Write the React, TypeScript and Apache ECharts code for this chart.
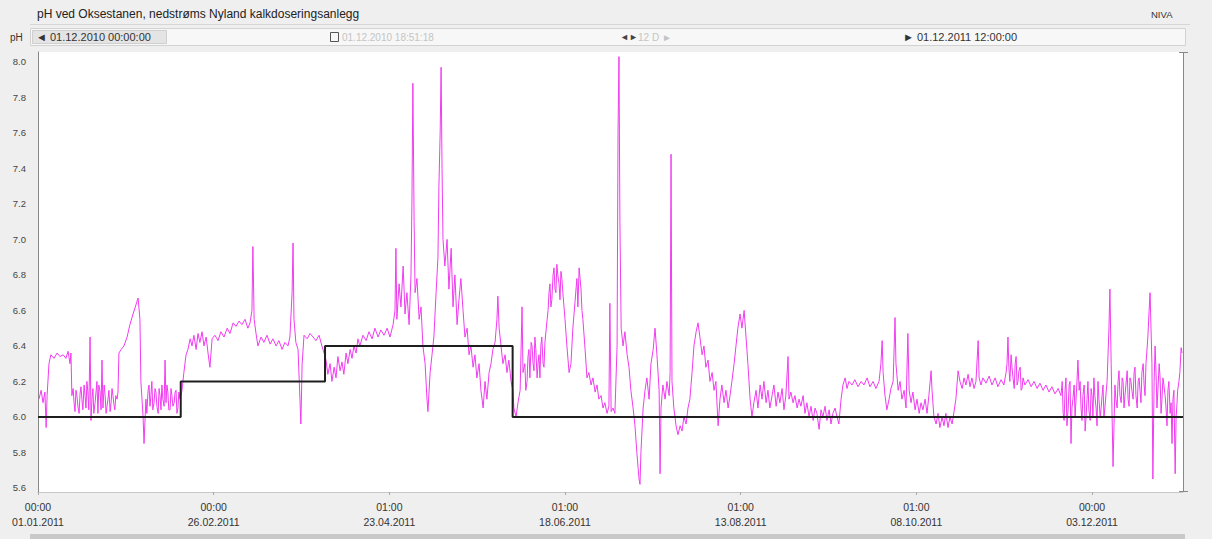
import React, { useEffect, useRef } from "react";
import * as echarts from "echarts";

// pH readings: [day since 01.01.2011 00:00, pH]
const phJanFeb = [[0.3,6.10],[1.0,6.15],[1.6,6.08],[2.2,6.14],[2.6,5.94],[2.9,6.12],[3.5,6.30],[4.1,6.35],[5.1,6.33],[6.1,6.36],[7.0,6.34],[8.0,6.35],[8.9,6.33],[9.6,6.37],[10.2,6.30],[10.5,6.36],[10.8,6.12],[11.5,6.08],[12.1,6.15],[12.8,6.05],[13.4,6.13],[14.0,6.10],[14.7,6.18],[15.3,6.05],[15.9,6.14],[16.6,6.45],[16.9,5.98],[17.5,6.16],[18.2,6.08],[18.8,6.20],[19.1,6.02],[19.8,6.14],[20.4,6.32],[20.7,6.05],[21.4,6.12],[22.0,6.06],[22.6,6.15],[23.3,6.08],[23.9,6.12],[24.5,6.04],[25.2,6.10],[25.5,6.14],[25.8,6.36],[26.5,6.38],[27.4,6.40],[28.4,6.45],[29.3,6.52],[30.3,6.58],[31.2,6.63],[31.9,6.67],[32.5,6.55],[32.8,6.20],[33.5,6.00],[33.8,5.85],[34.4,6.10],[35.1,6.15],[35.7,6.06],[36.3,6.20],[37.0,6.08],[37.6,6.14],[38.3,6.02],[38.9,6.12],[39.5,6.18],[40.2,6.06],[40.5,6.32],[40.8,6.08],[41.4,6.14],[42.1,6.04],[42.7,6.12],[43.4,6.08],[44.0,6.15],[44.6,6.05],[45.3,6.10]];

const phJanFebExtra = [[11.2,6.16],[11.8,6.03],[12.4,6.12],[13.1,6.02],[13.7,6.17],[14.3,6.04],[15.0,6.12],[15.6,6.20],[16.2,6.04],[17.2,6.10],[17.8,6.02],[18.5,6.14],[19.4,6.18],[20.1,6.04],[21.1,6.18],[21.7,6.02],[22.3,6.10],[23.0,6.03],[23.6,6.16],[24.2,6.07],[24.8,6.12],[34.7,6.02],[35.4,6.18],[36.0,6.12],[36.6,6.04],[37.3,6.16],[37.9,6.06],[38.6,6.16],[39.2,6.04],[39.8,6.10],[41.1,6.18],[41.7,6.04],[42.4,6.16],[43.0,6.06],[43.7,6.14],[44.3,6.02],[44.9,6.14]];

const phFebMar = [[45.9,6.15],[46.5,6.25],[47.2,6.35],[47.8,6.38],[48.5,6.44],[49.1,6.40],[49.7,6.46],[50.4,6.38],[51.0,6.47],[51.6,6.42],[52.3,6.48],[52.9,6.40],[53.6,6.45],[54.2,6.36],[54.8,6.28],[55.5,6.44],[56.4,6.46],[57.4,6.43],[58.3,6.48],[59.3,6.45],[60.3,6.50],[61.2,6.47],[62.2,6.53],[63.1,6.51],[64.1,6.54],[65.0,6.52],[66.0,6.55],[66.9,6.50],[67.6,6.53],[68.2,6.60],[68.5,6.96],[68.9,6.55],[69.5,6.47],[70.1,6.40],[71.1,6.45],[72.0,6.42],[73.0,6.46],[74.0,6.41],[74.9,6.44],[75.9,6.40],[76.8,6.43],[77.8,6.38],[78.7,6.42],[79.7,6.40],[80.3,6.45],[81.0,6.70],[81.3,6.98],[81.6,6.55],[82.2,6.42],[82.9,6.38],[83.5,6.10],[83.8,5.96],[84.2,6.30],[84.8,6.46],[85.8,6.44],[86.7,6.47],[87.7,6.45],[88.6,6.43],[89.6,6.46],[90.5,6.40],[91.2,6.36]];

const phAprMay = [[91.8,6.32],[92.4,6.24],[93.1,6.30],[93.7,6.20],[94.4,6.28],[95.0,6.22],[95.6,6.34],[96.3,6.26],[96.9,6.31],[97.5,6.24],[98.2,6.36],[98.8,6.30],[99.5,6.38],[100.1,6.33],[100.7,6.40],[101.4,6.36],[102.0,6.44],[102.6,6.40],[103.6,6.46],[104.6,6.43],[105.5,6.48],[106.5,6.44],[107.4,6.50],[108.4,6.45],[109.3,6.49],[110.3,6.46],[111.3,6.50],[112.2,6.45],[113.2,6.52],[113.8,6.60],[114.1,6.95],[114.4,6.55],[115.1,6.75],[115.7,6.62],[116.4,6.85],[117.0,6.58],[117.6,6.70],[118.3,6.52],[118.9,6.80],[119.2,7.20],[119.5,7.88],[119.9,7.10],[120.2,6.70],[120.8,6.78],[121.5,6.55],[122.1,6.62],[122.7,6.40],[123.4,6.30],[124.0,6.10],[124.3,6.03],[125.0,6.25],[125.6,6.35],[126.2,6.45],[126.9,6.70],[127.5,6.90],[127.8,7.30],[128.2,7.60],[128.5,7.97],[128.8,7.40],[129.1,7.00],[129.7,6.85],[130.4,7.00],[131.0,6.72],[131.7,6.95],[132.3,6.62],[132.9,6.80],[133.6,6.52],[134.2,6.66],[134.8,6.78],[135.5,6.60],[136.1,6.45],[136.8,6.50],[137.4,6.35],[138.0,6.40],[138.7,6.28],[139.3,6.35],[139.9,6.22],[140.6,6.30],[141.2,6.15],[141.9,6.05],[142.5,6.20],[143.1,6.10],[143.8,6.25],[144.4,6.30],[145.0,6.38],[145.7,6.42],[146.3,6.55],[146.6,6.68],[147.0,6.50],[147.6,6.40],[148.2,6.30],[148.9,6.35],[149.5,6.25],[150.1,6.32],[150.8,6.20],[151.4,6.15]];

const phJunAug = [[151.7,6.05],[152.4,6.00],[153.0,6.08],[153.7,6.15],[154.3,6.62],[154.6,6.25],[155.2,6.30],[155.9,6.20],[156.5,6.38],[157.2,6.42],[157.8,6.30],[158.4,6.45],[159.1,6.22],[159.7,6.35],[160.3,6.40],[161.0,6.30],[161.6,6.42],[162.3,6.55],[162.9,6.70],[163.5,6.62],[164.2,6.80],[164.8,6.72],[165.4,6.86],[166.1,6.75],[166.7,6.82],[167.4,6.68],[168.0,6.55],[168.6,6.40],[169.3,6.25],[169.9,6.30],[170.5,6.50],[171.2,6.65],[171.8,6.78],[172.5,6.84],[173.1,6.72],[173.7,6.55],[174.4,6.38],[175.0,6.22],[175.6,6.25],[176.3,6.18],[176.9,6.22],[177.6,6.14],[178.2,6.18],[178.8,6.10],[179.5,6.12],[180.1,6.05],[180.7,6.08],[181.4,6.02],[182.0,6.06],[182.3,6.64],[182.7,6.03],[183.3,6.05],[183.9,6.02],[184.6,6.40],[184.9,7.60],[185.2,8.03],[185.5,7.10],[185.9,6.50],[186.5,6.40],[187.1,6.48],[187.8,6.35],[188.4,6.28],[189.0,6.15],[189.7,6.05],[190.3,5.95],[190.9,5.80],[191.6,5.65],[191.9,5.62],[192.2,5.80],[192.9,6.05],[193.5,6.15],[194.1,6.22],[194.8,6.10],[195.4,6.30],[196.1,6.38],[196.7,6.50],[197.3,6.35],[198.0,6.15],[198.3,5.68],[198.6,6.05],[199.2,6.18],[199.9,6.10],[200.5,6.20],[201.2,6.12],[201.5,6.25],[201.8,7.48],[202.1,6.20],[202.7,6.05],[203.4,5.95],[204.0,5.90],[204.7,5.95],[205.3,5.92],[205.9,6.00],[206.6,5.96],[207.2,6.05],[207.8,6.10],[208.5,6.25],[209.1,6.40],[209.8,6.48],[210.4,6.53],[211.0,6.45],[211.7,6.35],[212.3,6.40],[212.9,6.28],[213.6,6.32],[214.2,6.20],[214.9,6.25],[215.5,6.15],[216.1,6.20],[216.8,5.95],[217.4,6.10],[218.0,6.18],[218.7,6.08],[219.3,6.15],[220.0,6.05],[220.6,6.12],[221.2,6.20],[221.9,6.30],[222.5,6.40],[223.1,6.50],[223.8,6.58],[224.4,6.50],[225.1,6.60],[225.7,6.45],[226.3,6.30]];

const phJunExtra = [[155.5,6.15],[156.2,6.34],[156.8,6.22],[157.5,6.40],[158.1,6.26],[158.7,6.38],[159.4,6.30],[160.0,6.22],[160.6,6.45],[161.3,6.28],[162.6,6.60],[163.2,6.75],[163.8,6.66],[164.5,6.84],[165.1,6.70],[165.7,6.80],[166.4,6.66],[167.0,6.78],[171.5,6.72],[172.1,6.62],[172.8,6.78],[173.4,6.60]];

const phSepDec = [[227.0,6.10],[227.6,6.00],[228.2,6.08],[228.9,6.15],[229.5,6.05],[230.2,6.18],[230.8,6.10],[231.4,6.20],[232.1,6.08],[232.7,6.15],[233.3,6.05],[234.0,6.12],[234.6,6.18],[235.3,6.06],[235.9,6.14],[236.5,6.08],[237.2,6.16],[237.8,6.04],[238.4,6.12],[239.1,6.34],[239.4,6.10],[240.0,6.14],[240.7,6.08],[241.3,6.12],[242.0,6.05],[242.6,6.10],[243.2,6.06],[243.9,6.12],[244.5,6.02],[245.1,6.08],[245.8,6.00],[246.4,6.06],[247.1,5.98],[247.7,6.05],[248.3,6.02],[249.0,5.93],[249.6,6.04],[250.2,6.00],[250.9,6.06],[251.5,5.98],[252.2,6.04],[252.8,5.96],[253.4,6.02],[254.1,6.05],[254.7,6.00],[255.3,5.96],[256.0,6.10],[256.6,6.18],[257.3,6.22],[257.9,6.16],[258.5,6.20],[259.5,6.18],[260.4,6.21],[261.4,6.17],[262.4,6.20],[263.3,6.18],[264.3,6.22],[265.2,6.17],[266.2,6.20],[267.1,6.16],[268.1,6.20],[268.7,6.30],[269.1,6.43],[269.4,6.25],[270.0,6.12],[270.6,6.04],[271.3,6.10],[271.9,6.16],[272.6,6.20],[273.2,6.56],[273.5,6.30],[274.2,6.15],[274.8,6.20],[275.4,6.10],[276.1,6.15],[276.7,6.05],[277.3,6.47],[277.7,6.15],[278.3,6.08],[278.9,6.14],[279.6,6.04],[280.2,6.10],[280.9,6.02],[281.5,6.08],[282.1,6.04],[282.8,6.10],[283.4,6.02],[284.0,6.12],[284.7,6.26],[285.0,6.15],[285.6,6.00],[286.3,5.96],[286.9,6.02],[287.5,5.94],[288.2,6.00],[288.8,5.95],[289.4,6.02],[290.1,5.94],[290.7,6.00],[291.4,5.96],[292.0,6.03],[292.6,6.10],[293.3,6.26],[293.9,6.20],[294.6,6.16],[295.2,6.22],[295.8,6.18],[296.5,6.24],[297.1,6.17],[297.7,6.22],[298.4,6.16],[299.0,6.20],[299.7,6.43],[300.0,6.22],[300.6,6.18],[301.2,6.22],[302.2,6.19],[303.2,6.23],[304.1,6.18],[305.1,6.22],[306.0,6.17],[307.0,6.21],[307.9,6.18],[308.6,6.25],[309.2,6.45],[309.5,6.28],[310.2,6.35],[310.8,6.22],[311.5,6.30],[312.1,6.18],[312.7,6.26],[313.4,6.15],[314.0,6.22],[314.6,6.18],[315.6,6.21],[316.6,6.17],[317.5,6.20],[318.5,6.16],[319.4,6.19],[320.4,6.15],[321.3,6.18],[322.3,6.14],[323.2,6.17],[324.2,6.13],[325.2,6.16],[326.1,6.12],[326.8,6.02],[327.4,6.15],[328.0,5.95],[328.7,6.18],[329.3,5.85],[329.9,6.10],[330.6,6.00],[331.2,6.20],[331.5,6.32],[331.9,6.15],[332.5,6.05],[333.1,6.12],[333.8,5.92],[334.4,6.10],[335.0,6.04],[335.7,6.16],[336.3,6.00],[336.9,6.12],[337.6,5.95],[338.2,6.10],[338.9,6.05],[339.5,6.18],[340.1,6.05],[340.8,6.20],[341.4,6.50],[341.7,6.72],[342.1,6.30],[342.4,6.00],[342.7,5.72],[343.0,5.95],[343.6,6.10],[344.3,6.20],[344.9,6.12],[345.6,6.22],[346.2,6.05],[346.8,6.18],[347.5,6.10],[348.1,6.22],[348.7,6.15],[349.4,6.25],[350.0,6.12],[350.7,6.20],[351.3,6.15],[351.9,6.25],[352.6,6.18],[353.2,6.30],[353.8,6.45],[354.2,6.60],[354.5,6.70],[354.8,6.50],[355.1,6.30],[355.4,5.65],[355.8,6.20],[356.1,6.40],[356.4,6.25],[357.0,6.15],[357.7,6.22],[358.3,6.10],[358.9,6.18],[359.6,6.05],[360.2,6.15],[360.9,6.02],[361.5,5.85],[361.8,6.10],[362.5,5.68],[362.8,6.00],[363.3,6.15],[364.0,6.25],[364.4,6.39],[364.7,6.36]];

const phSepDecExtra = [[308.9,6.30],[309.8,6.20],[310.5,6.28],[311.2,6.16],[311.8,6.34],[312.4,6.20],[313.1,6.28],[313.7,6.16],[326.5,6.20],[327.1,5.98],[327.7,6.22],[328.4,6.05],[329.0,6.20],[329.6,6.05],[330.3,6.18],[332.2,6.20],[332.8,5.98],[333.5,6.18],[334.1,6.00],[334.7,6.20],[335.4,5.98],[336.0,6.12],[336.6,6.22],[337.3,6.05],[337.9,6.20],[338.6,6.00],[339.2,6.12],[339.8,6.00],[340.5,6.14],[343.3,6.18],[344.0,6.05],[344.6,6.26],[345.3,6.08],[345.9,6.20],[346.5,6.12],[347.2,6.26],[347.8,6.06],[348.4,6.20],[349.1,6.10],[349.7,6.28],[350.4,6.05],[351.0,6.22],[351.6,6.08],[352.3,6.30],[352.9,6.12],[356.7,6.05],[357.4,6.30],[358.0,6.02],[358.6,6.22],[359.3,6.12],[359.9,5.95],[360.5,6.20],[361.2,6.08],[362.1,6.15],[363.0,6.05],[363.7,6.20]];

// stepped reference level (black)
const stepDays = [0, 45.5, 45.5, 91.5, 91.5, 151.3, 151.3, 365];
const stepValues = [6.0, 6.0, 6.2, 6.2, 6.4, 6.4, 6.0, 6.0];

const yTicks = [5.6, 5.8, 6.0, 6.2, 6.4, 6.6, 6.8, 7.0, 7.2, 7.4, 7.6, 7.8, 8.0];
const xTickDays = [0, 56, 112, 168, 224, 280, 336];
const xTickLabels = [
  "00:00\n01.01.2011",
  "00:00\n26.02.2011",
  "01:00\n23.04.2011",
  "01:00\n18.06.2011",
  "01:00\n13.08.2011",
  "01:00\n08.10.2011",
  "00:00\n03.12.2011",
];

const titleText = "pH ved Oksestanen, nedstrøms Nyland kalkdoseringsanlegg";
const fromText = "◄ 01.12.2010 00:00:00";
const toText = "► 01.12.2011 12:00:00";

const FONT = "'Liberation Sans', Arial, sans-serif";

export default function App() {
  const ref = useRef<HTMLDivElement>(null);
  useEffect(() => {
    document.body.style.margin = "0";
    const chart = echarts.init(ref.current!, null, { renderer: "svg" });
    const phData = [
      ...phJanFeb, ...phJanFebExtra, ...phFebMar, ...phAprMay,
      ...phJunAug, ...phJunExtra, ...phSepDec, ...phSepDecExtra,
    ].sort((a, b) => a[0] - b[0]);
    const stepData = stepDays.map((d, i) => [d, stepValues[i]]);
    const headerText = (x: number, text: string, fill = "#333", size = 9) => ({
      type: "text",
      x,
      y: 37,
      style: { text, fill, font: `${size}px ${FONT}`, verticalAlign: "middle" },
      z: 10,
    });
    chart.setOption({
      animation: false,
      backgroundColor: "#efefef",
      textStyle: { fontFamily: FONT },
      grid: {
        left: 38,
        right: 29,
        top: 52,
        bottom: 47,
        show: true,
        backgroundColor: "#ffffff",
        borderWidth: 0,
      },
      xAxis: {
        type: "value",
        min: 0,
        max: 365,
        splitLine: { show: false },
        axisLine: { show: true, lineStyle: { color: "#c8c8c8", width: 1 } },
        axisTick: { show: true, customValues: xTickDays, length: 3, lineStyle: { color: "#aaa" } },
        axisLabel: {
          customValues: xTickDays,
          color: "#333",
          fontSize: 10.5,
          lineHeight: 15,
          margin: 7,
          formatter: (v: number) => {
            const i = xTickDays.indexOf(Math.round(v));
            return i >= 0 ? xTickLabels[i] : "";
          },
        },
      },
      yAxis: {
        type: "value",
        min: 5.577,
        max: 8.056,
        splitLine: { show: false },
        axisLine: { show: true, lineStyle: { color: "#888", width: 1 } },
        axisTick: { show: false },
        axisLabel: {
          customValues: yTicks,
          color: "#444",
          fontSize: 9.5,
          margin: 12,
          formatter: (v: number) => v.toFixed(1),
        },
      },
      series: [
        {
          type: "line",
          name: "pH",
          data: phData,
          showSymbol: false,
          lineStyle: { color: "#f03cf0", width: 1 },
          z: 2,
        },
        {
          type: "line",
          name: "level",
          data: stepData,
          showSymbol: false,
          lineStyle: { color: "#1e1e1e", width: 2 },
          z: 3,
        },
      ],
      graphic: [
        { type: "line", shape: { x1: 30, y1: 24.5, x2: 1190, y2: 24.5 }, style: { stroke: "#d6d6d6", lineWidth: 1 } },
        {
          type: "text",
          x: 37,
          y: 14,
          style: { text: titleText, fill: "#222", font: `12px ${FONT}`, verticalAlign: "middle" },
        },
        {
          type: "text",
          x: 1151,
          y: 14,
          style: { text: "NIVA", fill: "#333", font: `9.5px ${FONT}`, verticalAlign: "middle" },
        },
        headerText(10, "pH", "#333", 10),
        {
          type: "rect",
          shape: { x: 30.5, y: 28.5, width: 1155, height: 17 },
          style: { fill: "#f7f7f7", stroke: "#d2d2d2", lineWidth: 1 },
        },
        {
          type: "rect",
          shape: { x: 32.5, y: 30.5, width: 134, height: 13 },
          style: { fill: "#e4e4e4", stroke: "#cfcfcf", lineWidth: 1 },
          z: 5,
        },
        headerText(36, fromText, "#333", 11),
        {
          type: "rect",
          shape: { x: 330.5, y: 32.5, width: 8, height: 9 },
          style: { fill: "none", stroke: "#555", lineWidth: 1 },
          z: 5,
        },
        headerText(342, "01.12.2010 18:51:18", "#c4c4c4", 10),
        headerText(620, "◄►", "#444", 9),
        headerText(638, "12 D ►", "#c4c4c4", 10),
        headerText(903, toText, "#333", 11),
        { type: "line", shape: { x1: 1183.5, y1: 52, x2: 1183.5, y2: 492 }, style: { stroke: "#888", lineWidth: 1 } },
        { type: "line", shape: { x1: 1179, y1: 52.5, x2: 1188, y2: 52.5 }, style: { stroke: "#888", lineWidth: 1 } },
        { type: "line", shape: { x1: 1179, y1: 491.5, x2: 1188, y2: 491.5 }, style: { stroke: "#888", lineWidth: 1 } },
        {
          type: "rect",
          shape: { x: 30, y: 534, width: 1155, height: 5 },
          style: { fill: "#c9c9c9" },
        },
      ],
    });
    return () => chart.dispose();
  }, []);
  return <div ref={ref} style={{ width: 1212, height: 539 }} />;
}
